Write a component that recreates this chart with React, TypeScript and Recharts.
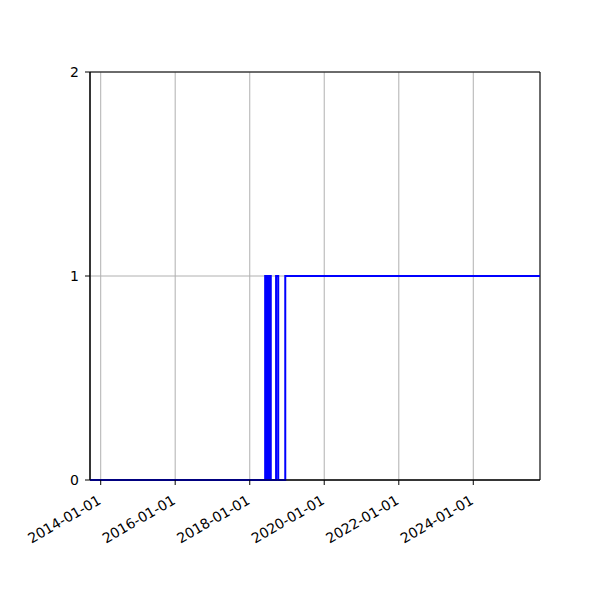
import React from "react";
import { LineChart, Line, XAxis, YAxis, CartesianGrid, ReferenceArea } from "recharts";

const eventDates: string[] = [
  "2013-09-18",
  "2018-06-01", "2018-06-05", "2018-06-09", "2018-06-14", "2018-06-18", "2018-06-23",
  "2018-06-27", "2018-07-02", "2018-07-06", "2018-07-11", "2018-07-15", "2018-07-20",
  "2018-07-22", "2018-07-26",
  "2018-09-16", "2018-10-07",
  "2018-12-15",
  "2025-10-16",
];
const eventValues: number[] = [
  0,
  1, 0, 1, 0, 1, 0,
  1, 0, 1, 0, 1, 0,
  1, 0,
  1, 0,
  1,
  1,
];
const xTickLabels: string[] = ["2014-01-01", "2016-01-01", "2018-01-01", "2020-01-01", "2022-01-01", "2024-01-01"];
const yTicks: number[] = [0, 1, 2];

const toTs = (s: string) => Date.parse(s + "T00:00:00Z");
const data = eventDates.map((d, i) => ({ t: toTs(d), v: eventValues[i] }));
const xTicks = xTickLabels.map(toTs);
const domain: [number, number] = [toTs(eventDates[0]), toTs(eventDates[eventDates.length - 1])];

const fmt = (t: number) => new Date(t).toISOString().slice(0, 10);

const XTick = (props: any) => {
  const { x, y, payload } = props;
  const ax = x - 4;
  const ay = y + 6;
  return (
    <text
      x={ax}
      y={ay}
      transform={`rotate(-30, ${ax}, ${ay})`}
      textAnchor="end"
      dominantBaseline="hanging"
      fontSize={14}
      fill="#000"
      fontFamily="DejaVu Sans"
    >
      {fmt(payload.value)}
    </text>
  );
};

export default function App() {
  return (
    <div style={{ position: "absolute", left: 0, top: 0, width: 600, height: 600, background: "#fff" }}>
      <LineChart width={600} height={600} data={data} margin={{ top: 72, right: 60, bottom: 0, left: 0 }}>
        <CartesianGrid stroke="#b0b0b0" strokeWidth={1} />
        <XAxis
          dataKey="t"
          type="number"
          scale="time"
          domain={domain}
          ticks={xTicks}
          allowDataOverflow
          height={120}
          tickSize={5}
          tickMargin={3}
          tick={<XTick />}
          axisLine={{ stroke: "#000", strokeWidth: 1 }}
          tickLine={{ stroke: "#000", strokeWidth: 1 }}
          interval={0}
        />
        <YAxis
          type="number"
          domain={[0, 2]}
          ticks={yTicks}
          width={90}
          tickSize={5}
          tickMargin={6}
          interval={0}
          tick={{ fontSize: 14, fill: "#000", fontFamily: "DejaVu Sans" }}
          axisLine={{ stroke: "#000", strokeWidth: 1 }}
          tickLine={{ stroke: "#000", strokeWidth: 1 }}
        />
        <ReferenceArea
          x1={domain[0]}
          x2={domain[1]}
          y1={0}
          y2={2}
          fill="none"
          stroke="#000"
          strokeWidth={1}
          ifOverflow="visible"
        />
        <Line
          dataKey="v"
          type="stepAfter"
          stroke="#0000ff"
          strokeWidth={2}
          dot={false}
          isAnimationActive={false}
        />
      </LineChart>
    </div>
  );
}
